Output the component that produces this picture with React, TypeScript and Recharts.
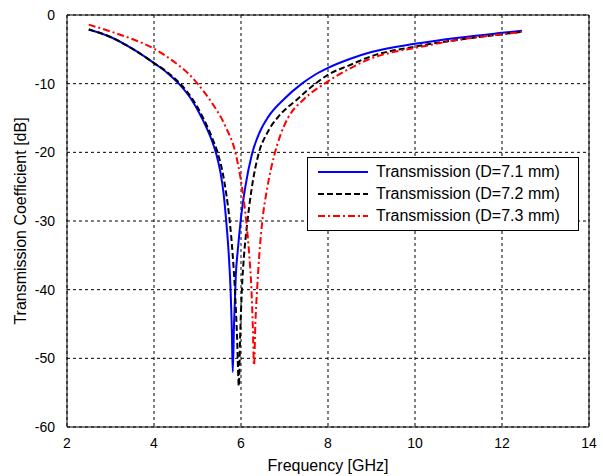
import { LineChart, Line, XAxis, YAxis, CartesianGrid, ReferenceLine } from 'recharts';

// D = 7.1 mm
const freq71 = [2.5, 3.0, 3.5, 4.0, 4.3, 4.57, 4.85, 5.1, 5.3, 5.43, 5.53, 5.6, 5.66, 5.72, 5.76, 5.79, 5.81, 5.84, 5.88, 5.93, 6.0, 6.1, 6.25, 6.42, 6.63, 6.98, 7.4, 7.7, 8.0, 8.5, 9.0, 10.0, 11.0, 12.0, 12.46];
const db71 = [-2.1, -3.2, -4.9, -7.0, -8.4, -10, -12.2, -15, -17.8, -20.2, -23, -26, -30, -35, -40, -46, -52, -45, -38, -34, -29.5, -25, -20.3, -17.2, -14.8, -12.3, -10, -8.7, -7.7, -6.4, -5.4, -4.2, -3.3, -2.6, -2.3];

// D = 7.2 mm
const freq72 = [2.5, 3.0, 3.5, 4.0, 4.3, 4.6, 4.88, 5.13, 5.33, 5.47, 5.58, 5.66, 5.74, 5.81, 5.86, 5.91, 5.95, 5.98, 6.02, 6.07, 6.14, 6.24, 6.4, 6.6, 6.86, 7.29, 7.71, 8.0, 8.5, 9.0, 10.0, 11.0, 12.0, 12.46];
const db72 = [-2.1, -3.2, -4.9, -7.0, -8.3, -10, -12.2, -15, -17.8, -20.2, -23, -26, -30, -35, -40, -47, -54, -47, -40, -35, -30.5, -25.5, -20.3, -17.2, -14.8, -12.3, -10, -8.7, -7.3, -6.0, -4.6, -3.6, -2.8, -2.45];

// D = 7.3 mm
const freq73 = [2.5, 3.0, 3.5, 4.0, 4.5, 4.8, 5.0, 5.3, 5.64, 5.87, 6.02, 6.12, 6.19, 6.24, 6.27, 6.3, 6.33, 6.37, 6.42, 6.49, 6.6, 6.77, 6.9, 7.08, 7.44, 7.92, 8.5, 9.0, 9.5, 10.0, 11.0, 12.0, 12.46];
const db73 = [-1.4, -2.4, -3.5, -4.9, -7.0, -8.6, -10, -12.5, -16.2, -20, -25, -30, -35, -40, -45, -51, -45, -40, -35, -30, -25.3, -20.3, -17.6, -15, -12.3, -10, -7.8, -6.3, -5.4, -4.8, -3.6, -2.8, -2.45];

const xTicks = [2, 4, 6, 8, 10, 12, 14];
const yTicks = [-60, -50, -40, -30, -20, -10, 0];

const toPoints = (f: number[], d: number[]) => f.map((x, i) => ({ f: x, db: d[i] }));

const series = [
  { name: 'Transmission (D=7.1 mm)', data: toPoints(freq71, db71), color: '#0000ff', dash: undefined },
  { name: 'Transmission (D=7.2 mm)', data: toPoints(freq72, db72), color: '#000000', dash: '6 3' },
  { name: 'Transmission (D=7.3 mm)', data: toPoints(freq73, db73), color: '#ff0000', dash: '7 3 2 3' },
];

const font = '"Liberation Sans", Arial, sans-serif';

export default function App() {
  return (
    <div style={{ position: 'absolute', left: 0, top: 0, width: 603, height: 476, background: '#fff', fontFamily: font }}>
      <LineChart width={603} height={476} margin={{ top: 15, right: 14, left: 0, bottom: 0 }}>
        <CartesianGrid stroke="#000" strokeDasharray="3 3" />
        <XAxis
          dataKey="f"
          type="number"
          domain={[2, 14]}
          ticks={xTicks}
          allowDuplicatedCategory={false}
          height={49}
          tickLine={false}
          tickMargin={5}
          axisLine={{ stroke: '#000' }}
          tick={{ fill: '#000', fontSize: 14, fontFamily: font }}
          label={{ value: 'Frequency [GHz]', position: 'insideBottom', offset: 5, fill: '#000', fontSize: 16, fontFamily: font }}
        />
        <YAxis
          type="number"
          domain={[-60, 0]}
          ticks={yTicks}
          width={67}
          tickLine={false}
          tickMargin={6}
          axisLine={{ stroke: '#000' }}
          tick={{ fill: '#000', fontSize: 14, fontFamily: font }}
          label={{ value: 'Transmission Coefficient [dB]', angle: -90, position: 'insideLeft', offset: 20, fill: '#000', fontSize: 16, fontFamily: font, style: { textAnchor: 'middle' } }}
        />
        <ReferenceLine y={0} stroke="#000" />
        <ReferenceLine x={14} stroke="#000" />
        {series.map((s) => (
          <Line
            key={s.name}
            data={s.data}
            dataKey="db"
            name={s.name}
            type="monotone"
            stroke={s.color}
            strokeDasharray={s.dash}
            strokeWidth={2}
            dot={false}
            isAnimationActive={false}
          />
        ))}
      </LineChart>
      <div
        style={{
          position: 'absolute',
          left: 307,
          top: 157,
          width: 272,
          height: 74,
          boxSizing: 'border-box',
          border: '1px solid #000',
          background: '#fff',
          padding: '3px 0 0 10px',
        }}
      >
        {series.map((s) => (
          <div key={s.name} style={{ display: 'flex', alignItems: 'center', height: 22 }}>
            <svg width={52} height={10} style={{ marginRight: 6 }}>
              <line x1={0} y1={5} x2={50} y2={5} stroke={s.color} strokeWidth={2} strokeDasharray={s.dash} />
            </svg>
            <span style={{ fontSize: 16, color: '#000', whiteSpace: 'nowrap' }}>{s.name}</span>
          </div>
        ))}
      </div>
    </div>
  );
}
